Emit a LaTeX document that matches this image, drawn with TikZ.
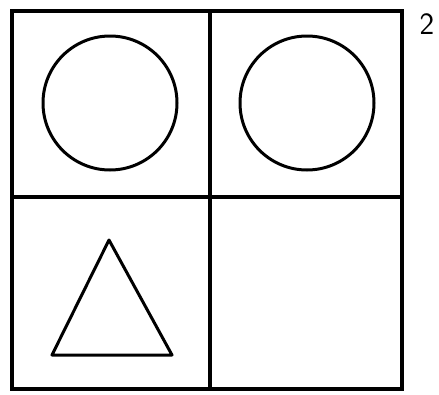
\documentclass[tikz,border=0pt]{standalone}
\begin{document}
\begin{tikzpicture}[x=1pt,y=-1pt,
  frame/.style={line width=3.6pt},
  figline/.style={line width=3pt, line join=round}]
\useasboundingbox (0,0) rectangle (439,394);
\draw[frame] (12,11) rectangle (402,389);
\draw[frame] (210,11) -- (210,389);
\draw[frame] (12,197) -- (402,197);
\draw[figline] (110,103) circle (67);
\draw[figline] (307,103) circle (67);
\draw[figline] (109,240) -- (172,355) -- (52,355) -- cycle;
\node[font=\sffamily\fontsize{31}{31}\selectfont, anchor=base] (lbl) at (427,34) {2};
\end{tikzpicture}
\end{document}
